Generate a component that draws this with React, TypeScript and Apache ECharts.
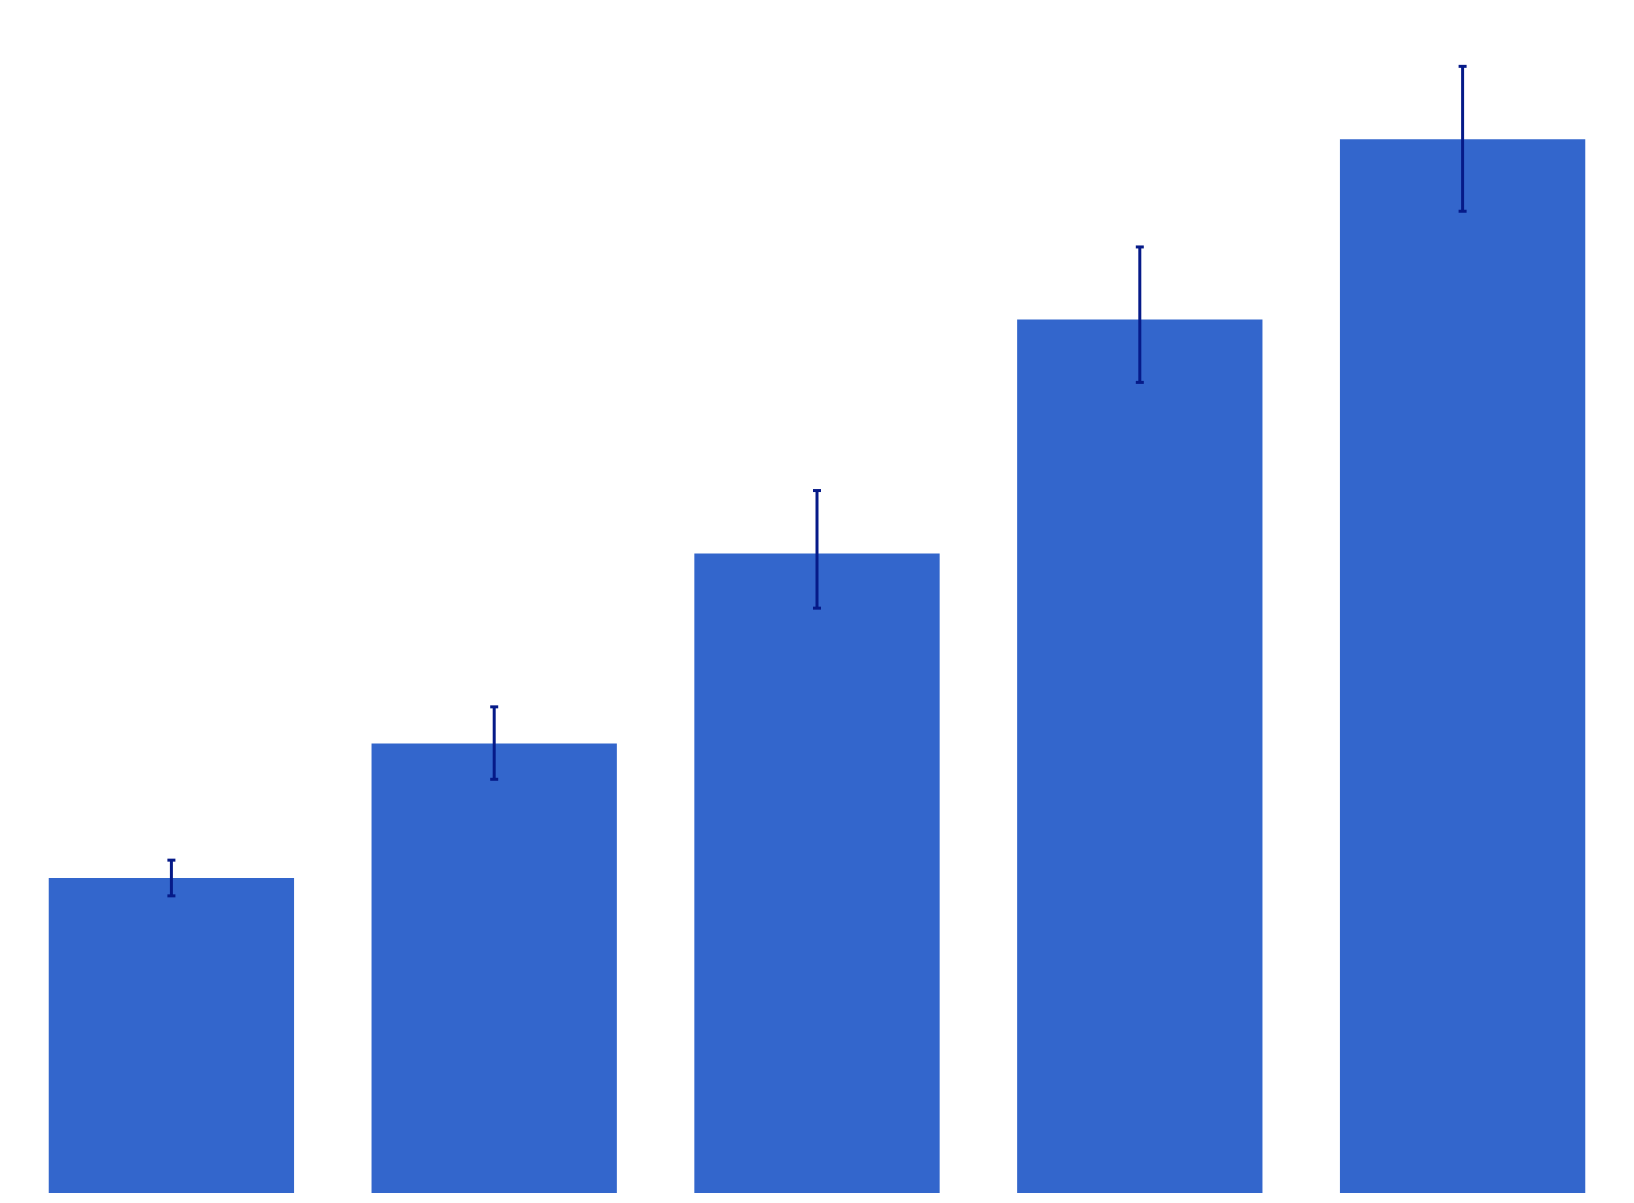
import React, { useEffect, useRef } from "react";
import * as echarts from "echarts";

const categories = ["A", "B", "C", "D", "E"];
const values = [30, 42.8, 60.9, 83.2, 100.35];
const errLow = [28.3, 39.4, 55.7, 77.2, 93.5];
const errHigh = [31.7, 46.3, 66.9, 90.1, 107.3];

export default function App() {
  const ref = useRef<HTMLDivElement>(null);
  useEffect(() => {
    if (!ref.current) return;
    const chart = echarts.init(ref.current, null, { renderer: "svg" });
    const errData = categories.map((_, i) => [i, errLow[i], errHigh[i]]);
    chart.setOption({
      animation: false,
      backgroundColor: "#ffffff",
      grid: { left: 10, right: 10, top: 38, bottom: 10, containLabel: false },
      xAxis: {
        type: "category",
        data: categories,
        show: false,
      },
      yAxis: {
        type: "value",
        min: 0,
        max: 110,
        show: false,
        splitLine: { show: false },
      },
      series: [
        {
          type: "bar",
          data: values,
          barWidth: "76%",
          itemStyle: { color: "#3366cc" },
        },
        {
          type: "custom",
          data: errData,
          encode: { x: 0, y: [1, 2] },
          z: 10,
          renderItem: (params: any, api: any) => {
            const idx = api.value(0);
            const lo = api.coord([idx, api.value(1)]);
            const hi = api.coord([idx, api.value(2)]);
            const half = 4;
            const style = { stroke: "#061a88", lineWidth: 3 };
            return {
              type: "group",
              children: [
                { type: "line", shape: { x1: hi[0], y1: hi[1], x2: lo[0], y2: lo[1] }, style },
                { type: "line", shape: { x1: hi[0] - half, y1: hi[1], x2: hi[0] + half, y2: hi[1] }, style },
                { type: "line", shape: { x1: lo[0] - half, y1: lo[1], x2: lo[0] + half, y2: lo[1] }, style },
              ],
            };
          },
        },
      ],
    });
    return () => chart.dispose();
  }, []);
  return (
    <div
      ref={ref}
      style={{ position: "fixed", left: 0, top: 0, width: 1634, height: 1203 }}
    />
  );
}
